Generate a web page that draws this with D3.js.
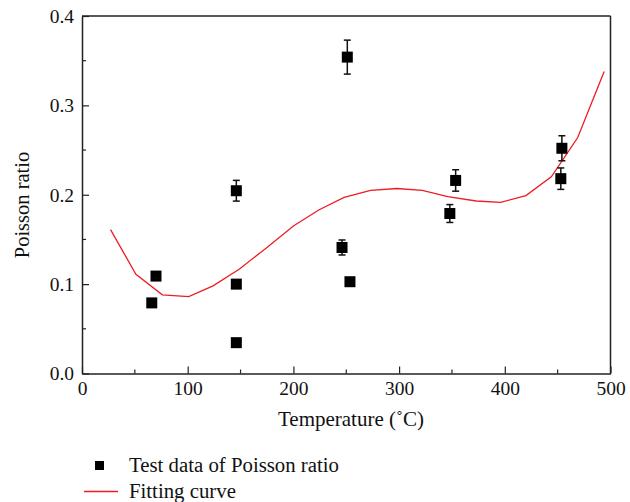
<!DOCTYPE html>
<html>
<head>
<meta charset="utf-8">
<script src="https://cdn.jsdelivr.net/npm/d3@7"></script>
<style>
  html, body { margin: 0; padding: 0; background: #fff; }
  svg { display: block; }
  text { font-family: "Liberation Serif", "Times New Roman", serif; fill: #111; }
</style>
</head>
<body>
<svg id="chart" width="630" height="502"></svg>
<script>
// Measured Poisson ratio (temperature in °C, mean value, error half-width)
const testTemp  = [66, 70, 146, 146, 146, 251, 246, 253.5, 348, 353.5, 454, 453];
const testRatio = [0.079, 0.109, 0.2045, 0.100, 0.0345, 0.354, 0.141, 0.1027, 0.179, 0.216, 0.252, 0.218];
const testError = [0, 0, 0.0116, 0, 0, 0.019, 0.0084, 0, 0.010, 0.012, 0.014, 0.012];

// Polynomial fitting curve, sampled
const fitTemp  = [27, 51, 76, 101, 124, 149, 175, 200, 224, 248, 273, 298, 322, 346, 373, 396, 420, 444, 469, 494];
const fitRatio = [0.161, 0.111, 0.088, 0.086, 0.098, 0.117, 0.141, 0.165, 0.183, 0.197, 0.205, 0.207, 0.205, 0.198, 0.193, 0.1915, 0.199, 0.220, 0.264, 0.338];

const xTicks = [0, 100, 200, 300, 400, 500];
const yTicks = [0.0, 0.1, 0.2, 0.3, 0.4];
const xMinor = [50, 150, 250, 350, 450];
const yMinor = [0.05, 0.15, 0.25, 0.35];

const svg = d3.select("#chart");
const margin = { left: 82, top: 16, right: 19.5, bottom: 128.5 };
const W = 630, H = 502;
const x = d3.scaleLinear().domain([0, 500]).range([margin.left, W - margin.right]);
const y = d3.scaleLinear().domain([0, 0.4]).range([H - margin.bottom, margin.top]);

const axisColor = "#222";

// frame: top and right edges
svg.append("line").attr("x1", x(0)).attr("x2", x(500)).attr("y1", y(0.4)).attr("y2", y(0.4))
  .attr("stroke", axisColor).attr("stroke-width", 1.5);
svg.append("line").attr("x1", x(500)).attr("x2", x(500)).attr("y1", y(0.4)).attr("y2", y(0))
  .attr("stroke", axisColor).attr("stroke-width", 1.5);

// bottom axis (ticks point inward)
const gx = svg.append("g").attr("transform", `translate(0,${y(0)})`)
  .call(d3.axisBottom(x).tickValues(xTicks).tickFormat(d3.format("d")).tickSizeInner(-7).tickSizeOuter(0).tickPadding(8));
gx.selectAll(".tick text").attr("font-size", 19.5).attr("font-family", "Liberation Serif").attr("fill", "#111");
gx.append("g").selectAll("line").data(xMinor).join("line")
  .attr("x1", d => x(d)).attr("x2", d => x(d)).attr("y1", 0).attr("y2", -4)
  .attr("stroke", axisColor).attr("stroke-width", 1.2);

// left axis (ticks point inward)
const gy = svg.append("g").attr("transform", `translate(${x(0)},0)`)
  .call(d3.axisLeft(y).tickValues(yTicks).tickFormat(d3.format(".1f")).tickSizeInner(-7).tickSizeOuter(0).tickPadding(8));
gy.selectAll(".tick text").attr("font-size", 19.5).attr("font-family", "Liberation Serif").attr("fill", "#111");
gy.append("g").selectAll("line").data(yMinor).join("line")
  .attr("x1", 0).attr("x2", 4).attr("y1", d => y(d)).attr("y2", d => y(d))
  .attr("stroke", axisColor).attr("stroke-width", 1.2);

[gx, gy].forEach(g => {
  g.select(".domain").attr("stroke", axisColor).attr("stroke-width", 1.5);
  g.selectAll(".tick line").attr("stroke", axisColor).attr("stroke-width", 1.2);
});

// fitting curve
const line = d3.line().x((d, i) => x(fitTemp[i])).y(d => y(d));
svg.append("path").datum(fitRatio).attr("d", line)
  .attr("fill", "none").attr("stroke", "#ee1c24").attr("stroke-width", 1.3);

// test data with error bars
const pts = testTemp.map((t, i) => ({ t, v: testRatio[i], e: testError[i] }));
const eb = svg.append("g").attr("stroke", "#111").attr("stroke-width", 1.5);
pts.filter(d => d.e > 0).forEach(d => {
  eb.append("line").attr("x1", x(d.t)).attr("x2", x(d.t)).attr("y1", y(d.v - d.e)).attr("y2", y(d.v + d.e));
  [d.v - d.e, d.v + d.e].forEach(v => {
    eb.append("line").attr("x1", x(d.t) - 3.5).attr("x2", x(d.t) + 3.5).attr("y1", y(v)).attr("y2", y(v));
  });
});
const s = 11;
svg.append("g").selectAll("rect").data(pts).join("rect")
  .attr("x", d => x(d.t) - s / 2).attr("y", d => y(d.v) - s / 2)
  .attr("width", s).attr("height", s).attr("fill", "#000");

// axis titles
svg.append("text").attr("x", 351).attr("y", 426).attr("text-anchor", "middle")
  .attr("font-size", 21).text("Temperature (˚C)");
svg.append("text").attr("transform", "translate(29,205) rotate(-90)").attr("text-anchor", "middle")
  .attr("font-size", 20.5).text("Poisson ratio");

// legend
const lg = svg.append("g");
lg.append("rect").attr("x", 95).attr("y", 461).attr("width", 9).attr("height", 9).attr("fill", "#000");
lg.append("text").attr("x", 129).attr("y", 472).attr("font-size", 20.8).text("Test data of Poisson ratio");
lg.append("line").attr("x1", 84).attr("x2", 118).attr("y1", 491.5).attr("y2", 491.5)
  .attr("stroke", "#ee1c24").attr("stroke-width", 1.3);
lg.append("text").attr("x", 129).attr("y", 498).attr("font-size", 20.8).text("Fitting curve");
</script>
</body>
</html>
